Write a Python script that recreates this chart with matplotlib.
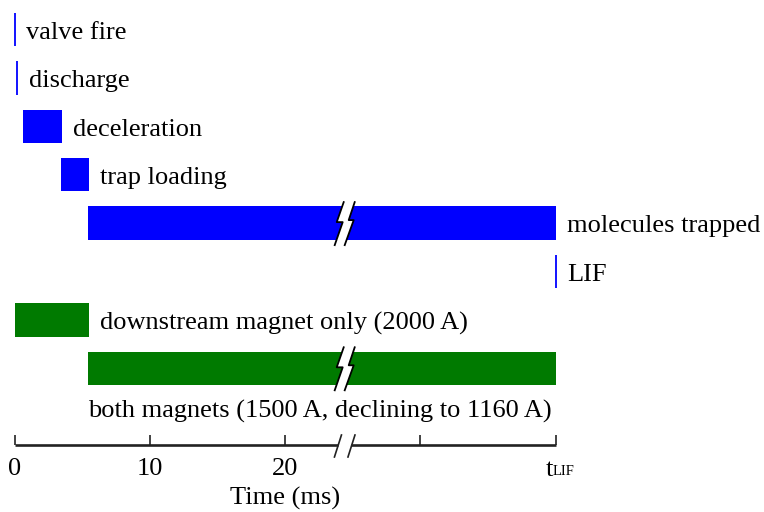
import matplotlib
matplotlib.use('Agg')
import matplotlib.pyplot as plt
import matplotlib.transforms as mtransforms
from matplotlib.lines import Line2D
from matplotlib.patches import Polygon

plt.rcParams['font.family'] = ['Liberation Serif', 'DejaVu Serif']
plt.rcParams['font.size'] = 19

# timing rows (ms); t_LIF is drawn at 40 on the compressed axis
events = ['valve fire', 'discharge', 'deceleration', 'trap loading',
          'molecules trapped', 'LIF', 'downstream magnet only (2000 A)',
          'both magnets (1500 A, declining to 1160 A)']
t_start = [0.05, 0.2, 0.6, 3.4, 5.45, 40.0, 0.0, 5.45]
t_end = [0.05, 0.2, 3.5, 5.5, 40.0, 40.0, 5.5, 40.0]
is_pulse = [True, True, False, False, False, True, False, False]
colors = ['#0000ff'] * 6 + ['#007a00'] * 2
broken = [False, False, False, False, True, False, False, True]

tick_pos = [0, 10, 20, 30, 40]
tick_labels = ['0', '10', '20', '', '']
t_lif = 40
t_break = 24.4

fig = plt.figure(figsize=(7.64, 5.12), dpi=100)
ax = fig.add_axes([14.7 / 764, 67 / 512, 541 / 764, 445 / 512])
ax.set_xlim(0, 40)
ax.set_ylim(8.585, -0.61)
bar_h = 0.69

for i, name in enumerate(events):
    if is_pulse[i]:
        ax.vlines(t_start[i], i - bar_h / 2, i + bar_h / 2, color=colors[i], lw=1.3,
                  clip_on=False)
    else:
        ax.barh(i, t_end[i] - t_start[i], left=t_start[i], height=bar_h,
                color=colors[i], linewidth=0)
    if i == len(events) - 1:
        ax.annotate(name, (t_start[i], i), xytext=(0, -31), textcoords='offset points',
                    va='center', ha='left', annotation_clip=False)
    else:
        ax.annotate(name, (t_end[i], i), xytext=(8, -2.4), textcoords='offset points',
                    va='center', ha='left', annotation_clip=False)

    if broken[i]:
        # lightning-bolt style break through the bar (offsets in px at 100 dpi)
        left = [(-1, -21), (-8, -1), (-2, -1), (-10, 22)]
        right = [(10, -21), (4, -3), (9, -3), (0, 22)]
        trans = fig.dpi_scale_trans + mtransforms.ScaledTranslation(t_break, i, ax.transData)
        to_in = lambda pts: [(x / 100, -y / 100) for x, y in pts]
        ax.add_patch(Polygon(to_in(left + right[::-1]), closed=True, transform=trans,
                             facecolor='white', edgecolor='none', clip_on=False, zorder=3))
        for edge in (left, right):
            xs, ys = zip(*to_in(edge))
            ax.add_line(Line2D(xs, ys, transform=trans, color='black', lw=1.3,
                               clip_on=False, zorder=4))

# time axis with a break
for s in ax.spines.values():
    s.set_visible(False)
ax.set_yticks([])
ax.set_xticks(tick_pos)
ax.set_xticklabels(tick_labels)
ax.tick_params(axis='x', direction='in', length=7.5, width=1.2, pad=9.5, color='#222222')
xt = ax.get_xaxis_transform()
gap = 0.5
ax.plot([0, t_break - gap], [0, 0], transform=xt, color='#222222', lw=1.9,
        solid_capstyle='butt', clip_on=False)
ax.plot([t_break + gap, 40], [0, 0], transform=xt, color='#222222', lw=1.9,
        solid_capstyle='butt', clip_on=False)
for dx in (-gap, gap):
    trans = fig.dpi_scale_trans + mtransforms.ScaledTranslation(t_break + dx, 0, xt)
    ax.add_line(Line2D([-0.035, 0.035], [-0.12, 0.10], transform=trans,
                       color='#222222', lw=1.2, clip_on=False))

# t_LIF label: small-caps style subscript
ax.annotate('t', (t_lif, 0), xycoords=xt, xytext=(-7, -10), textcoords='offset points',
            ha='left', va='top', annotation_clip=False)
ax.annotate('LIF', (t_lif, 0), xycoords=xt, xytext=(-2, -24), textcoords='offset points',
            ha='left', va='bottom', fontsize=10.5, annotation_clip=False)

ax.set_xlabel('Time (ms)', labelpad=5)

fig.savefig('out.png', dpi=100)
